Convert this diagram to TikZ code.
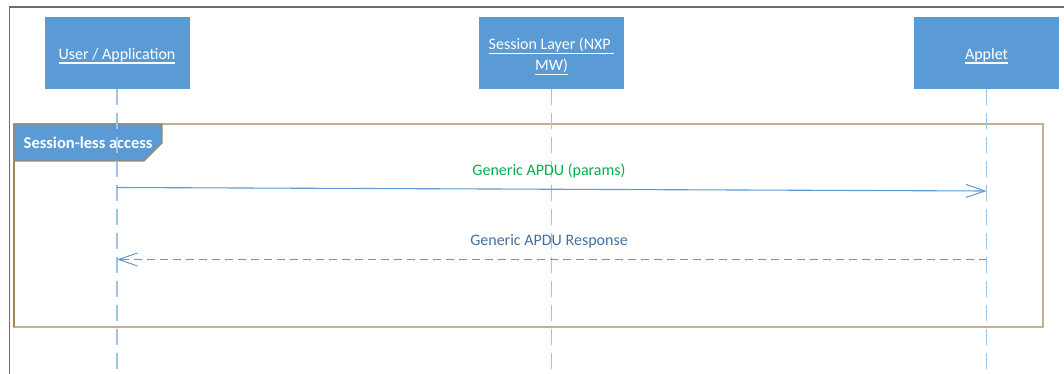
\documentclass[tikz,border=0pt]{standalone}
\usepackage{fontspec}
\setmainfont{Carlito}
\usetikzlibrary{arrows.meta}
% underlined header text: a rule below the baseline, as wide as the text
\newsavebox{\hdrbox}
\newcommand{\hdrul}[1]{\sbox{\hdrbox}{#1}\rlap{\rule[-4.5pt]{\wd\hdrbox}{1.4pt}}\usebox{\hdrbox}}
\definecolor{hdrblue}{HTML}{5B9BD5}
\definecolor{lifeblue}{HTML}{9DC3E6}
\definecolor{msgblue}{HTML}{5B9BD5}
\definecolor{frametan}{HTML}{C2B293}
\definecolor{framebrown}{HTML}{A3875A}
\definecolor{outergrey}{HTML}{6E6E6E}
\definecolor{callgreen}{HTML}{00B050}
\definecolor{replyblue}{HTML}{44709E}
\tikzset{
  header/.style={fill=hdrblue, draw=white, line width=0.6pt,
    minimum width=146pt, minimum height=73pt, inner sep=0pt},
  headtext/.style={text=white, inner sep=0pt, align=center,
    font=\fontsize{16}{21}\selectfont},
  lifeline/.style={draw=lifeblue, line width=1.5pt, dash pattern=on 16pt off 8pt},
  callmsg/.style={draw=msgblue, line width=1.1pt,
    -{Straight Barb[length=19pt,width=13pt,line width=1pt]}},
  replymsg/.style={draw=msgblue, line width=1.1pt, dash pattern=on 8pt off 5pt,
    -{Straight Barb[length=19pt,width=13pt,line width=1pt]}},
  msglabel/.style={font=\fontsize{16}{20}\selectfont, inner sep=0pt},
  fragframe/.style={draw=frametan, line width=1.5pt},
  fraglabel/.style={fill=hdrblue, draw=framebrown, line width=1.2pt},
}
\begin{document}
\begin{tikzpicture}[x=1pt,y=-1pt]
\useasboundingbox (0,0) rectangle (1064,374);

% outer diagram border (top and left edges)
\draw[outergrey, line width=1.2pt] (9.5,374) -- (9.5,7) -- (1064,7);

% combined fragment
\draw[fragframe] (14,124) rectangle (1043,327);
\draw[framebrown, line width=1.3pt] (14,124) -- (14,327);
\draw[fraglabel] (14,124) -- (162,124) -- (162,143) -- (144,161) -- (14,161) -- cycle;
\node[text=white, font=\fontsize{16.5}{19}\selectfont\bfseries, anchor=west, inner sep=0pt]
  (fraglbl) at (23.5,142.5) {Session-less access};

% participants
\node[header] (user) at (117,52.5) {};
\node[header] (sess) at (551.5,52.5) {};
\node[header] (applet) at (986.5,52.5) {};
\node[headtext] (usertxt) at ([yshift=-3.5pt]user.center) {\hdrul{User / Application}};
\node[headtext] (sesstxt) at ([yshift=-4pt]sess.center) {\hdrul{Session Layer (NXP }\\\hdrul{MW)}};
\node[headtext] (applettxt) at ([yshift=-3.5pt]applet.center) {\hdrul{Applet}};

% lifelines
\coordinate (userend) at (117,374);
\coordinate (sessend) at (551.5,374);
\coordinate (appletend) at (986.5,374);
\draw[lifeline] (user.south) -- (userend);
\draw[lifeline] (sess.south) -- (sessend);
\draw[lifeline] (applet.south) -- (appletend);

% messages
\coordinate (callfrom) at (117,187.5);
\coordinate (callto) at (986.5,191);
\coordinate (replyfrom) at (986.5,259.5);
\coordinate (replyto) at (117,259.5);
\draw[callmsg] (callfrom) -- (callto);
\draw[replymsg] (replyfrom) -- (replyto);
\node[msglabel, text=callgreen] (calllbl) at (549,171) {Generic APDU (params)};
\node[msglabel, text=replyblue] (replylbl) at (549,241.5) {Generic APDU Response};
\end{tikzpicture}
\end{document}
